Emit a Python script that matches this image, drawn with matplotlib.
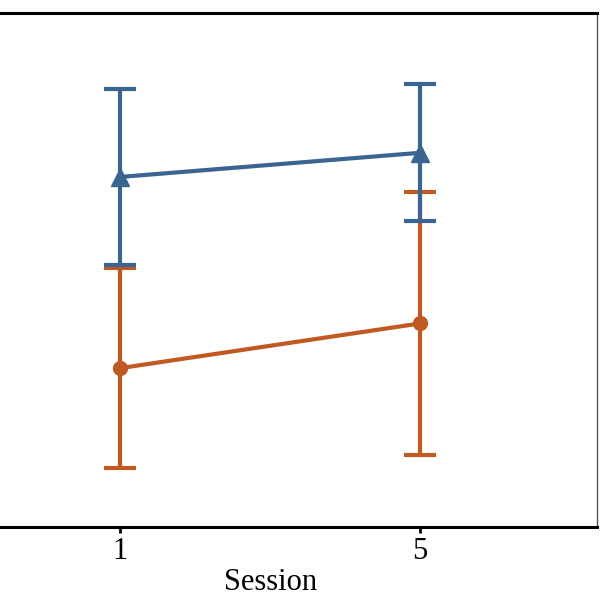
import matplotlib
matplotlib.use("Agg")
import matplotlib.pyplot as plt

sessions = ["1", "5"]
blue_mean = [68.1, 72.8]
blue_err = [17.2, 13.3]
orange_mean = [30.9, 39.6]
orange_err = [19.5, 25.5]

plt.rcParams['font.family'] = ['Liberation Serif', 'DejaVu Serif']

fig = plt.figure(figsize=(6, 6), dpi=100)
ax = fig.add_axes([-0.0917, 0.1217, 1.0867, 0.8566])
x = list(range(len(sessions)))

ax.errorbar(x, orange_mean, yerr=orange_err, color='#c05a22', marker='o',
            markersize=10, linewidth=3, elinewidth=3, capsize=11.5, capthick=3)
ax.errorbar(x, blue_mean, yerr=blue_err, color='#3a6590', marker='^',
            markersize=13.5, linewidth=3, elinewidth=3, capsize=11.5, capthick=3)

ax.set_xlim(-0.583, 1.59)
ax.set_ylim(0, 100)
ax.set_xticks(x)
ax.set_xticklabels(sessions, fontsize=22)
ax.set_xlabel("Session", fontsize=22, labelpad=2)
ax.tick_params(axis='x', direction='out', length=4, width=2, pad=3)
ax.set_yticks([])
for s in ['top', 'bottom']:
    ax.spines[s].set_linewidth(2.2)
    ax.spines[s].set_color('black')
ax.spines['right'].set_linewidth(1)
ax.spines['right'].set_color('#555555')

fig.savefig("out.png", dpi=100)
